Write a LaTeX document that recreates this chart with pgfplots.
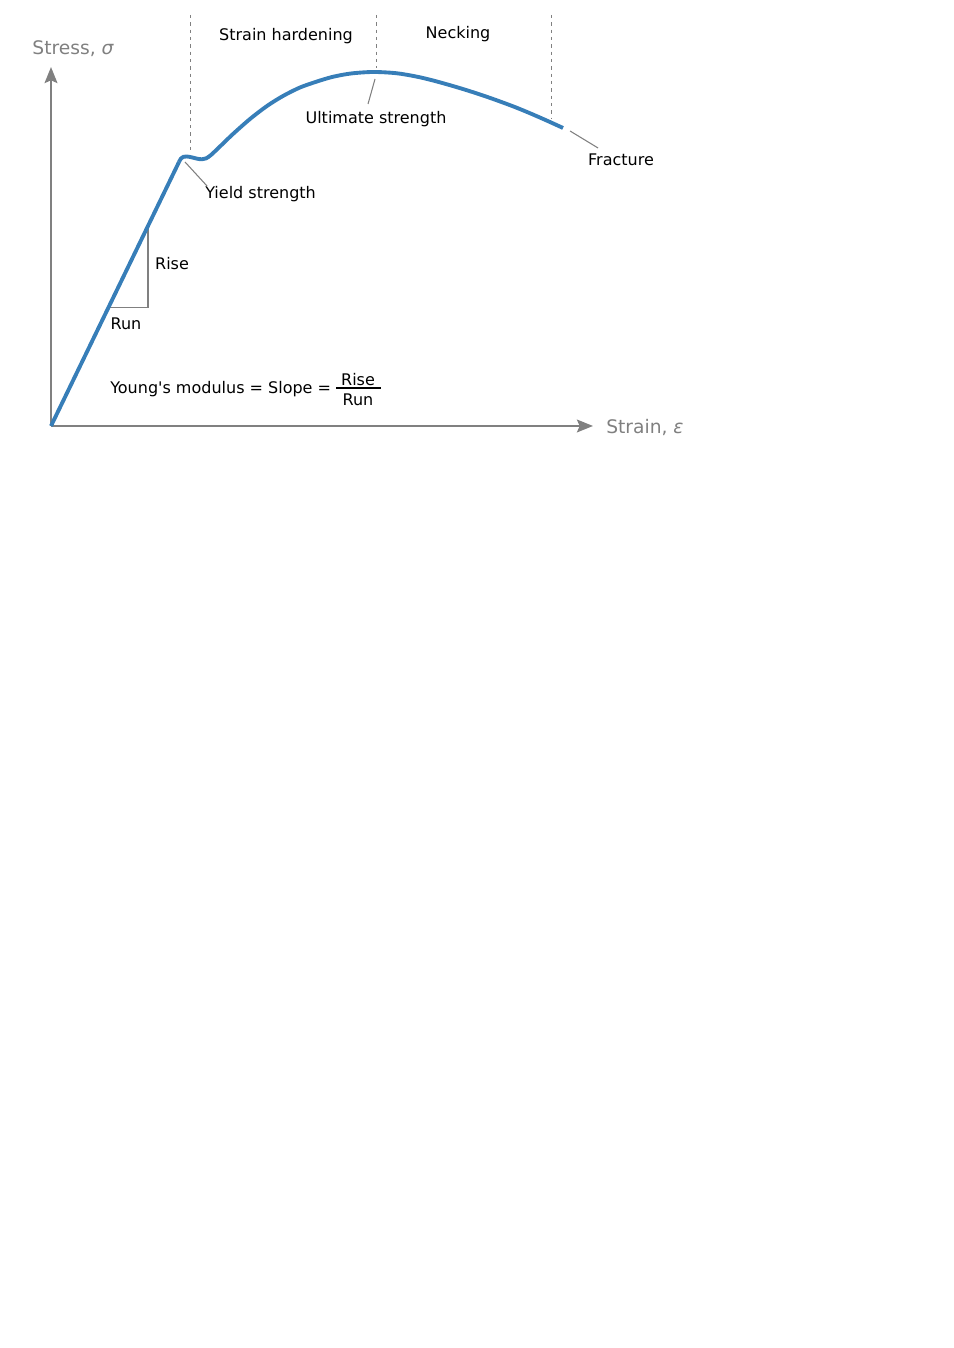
\documentclass[border=0pt]{standalone}
\usepackage{pgfplots}
\pgfplotsset{compat=1.18}
\usepackage{fontspec}
\setmainfont{DejaVu Sans}
\newfontfamily\djv{DejaVu Sans}
\usetikzlibrary{arrows.meta}
\definecolor{curveblue}{HTML}{377EB8}
\definecolor{axgray}{HTML}{808080}
\tikzset{lbl/.style={font=\djv\fontsize{12}{14.4}\selectfont, inner sep=0pt, text=black},
         big/.style={font=\djv\fontsize{14}{16.8}\selectfont, inner sep=0pt, text=axgray}}
\begin{document}
\begin{tikzpicture}
\begin{axis}[
  scale only axis, width=714.75pt, height=1011pt,
  xmin=-51, xmax=902, ymin=-922, ymax=426,
  enlargelimits=false, hide axis, clip=false,
]
\path (axis cs:-51,-922) rectangle (axis cs:902,426);
% region separators
\addplot[axgray, line width=0.6pt, dash pattern=on 2.6pt off 2.9pt] coordinates {(139,411) (139,276)};
\addplot[axgray, line width=0.6pt, dash pattern=on 2.6pt off 2.9pt] coordinates {(325,411) (325,358)};
\addplot[axgray, line width=0.6pt, dash pattern=on 2.6pt off 2.9pt] coordinates {(500,411) (500,308)};
% axes
\addplot[axgray, line width=1.9pt, -{Stealth[length=12pt,width=9.5pt,inset=2pt]}] coordinates {(0,0) (542,0)};
\addplot[axgray, line width=1.9pt, -{Stealth[length=12pt,width=9.5pt,inset=2pt]}] coordinates {(0,0) (0,359)};
% rise/run triangle
\addplot[axgray, line width=0.8pt] coordinates {(57.5,118.5) (97,118.5) (97,200)};
% curve
\addplot[curveblue, line width=2.9pt] coordinates {(0,0) (128,264)};
\addplot[curveblue, line width=2.9pt, smooth, tension=0.5] coordinates {
(128,264) (130,267.5) (132.5,269.2) (136,269.5) (141,268.6) (146,267.3) (151,266.7) (155,267.6) (160,271)
(170,280.5) (182,292) (199,307) (216,320) (232,330) (249,338.5) (266,344.5) (282,349.2) (300,352.5) (322,354)
(345,352.8) (365,349.5) (382,345.5) (400,340.5) (415,336) (432,330.5) (449,324.5) (465,318.5) (480,312.3) (496,305.3) (512,298)};
% leader lines
\addplot[axgray, line width=0.8pt] coordinates {(324,347) (317,322)};
\addplot[axgray, line width=0.8pt] coordinates {(134,264) (156,240)};
\addplot[axgray, line width=0.8pt] coordinates {(519,295) (547,278)};
% fraction bar
\addplot[black, line width=0.8pt] coordinates {(285,38) (330,38)};
% labels
\node[big] at (axis cs:22,377) {Stress, {\itshape σ}};
\node[big, anchor=west] at (axis cs:555,-2) {Strain, {\itshape ε}};
\node[lbl] at (axis cs:235,390) {Strain hardening};
\node[lbl] at (axis cs:407,392) {Necking};
\node[lbl] at (axis cs:325,307) {Ultimate strength};
\node[lbl, anchor=west] at (axis cs:154,232) {Yield strength};
\node[lbl] at (axis cs:570,266) {Fracture};
\node[lbl] at (axis cs:121,162) {Rise};
\node[lbl] at (axis cs:75,102) {Run};
\node[lbl, anchor=west] at (axis cs:59,37) {Young's modulus = Slope =};
\node[lbl] at (axis cs:307,46) {Rise};
\node[lbl] at (axis cs:307,26) {Run};
\end{axis}
\end{tikzpicture}
\end{document}
